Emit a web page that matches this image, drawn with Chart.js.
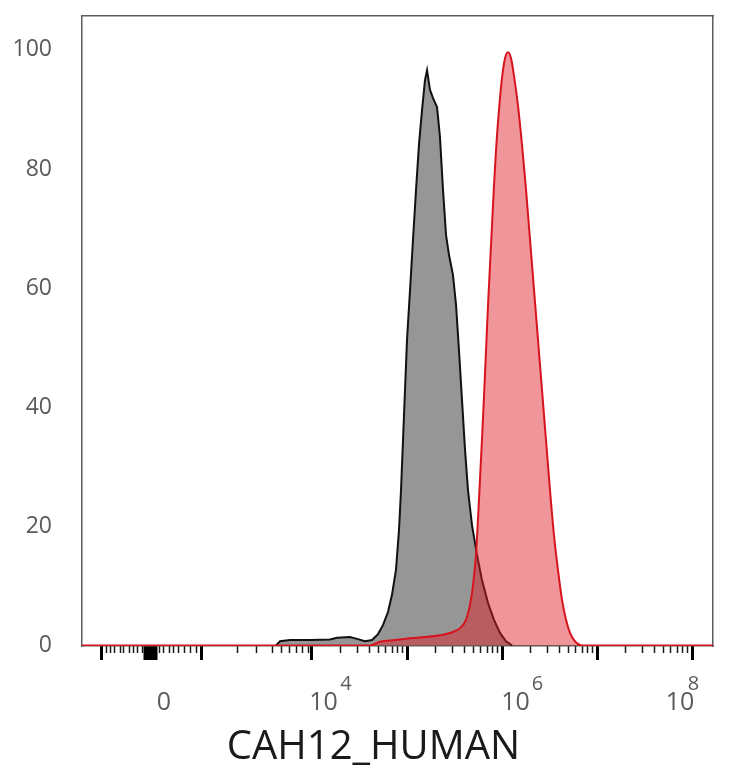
<!DOCTYPE html>
<html>
<head>
<meta charset="utf-8">
<title>CAH12_HUMAN</title>
<script src="https://cdn.jsdelivr.net/npm/chart.js@4.4.1/dist/chart.umd.min.js"></script>
<style>
  html, body { margin: 0; padding: 0; background: #fff; }
  #wrap { width: 734px; height: 768px; }
</style>
</head>
<body>
<div id="wrap"><canvas id="histChart"></canvas></div>
<script>
// x values are positions on the biexponential axis, in decades (10^4 -> 4)
const blackX = [3.621, 3.663, 3.768, 3.979, 4.189, 4.263, 4.400, 4.474, 4.558, 4.632,
  4.695, 4.747, 4.800, 4.842, 4.884, 4.916, 4.937, 4.958, 4.979, 5.000,
  5.032, 5.063, 5.095, 5.126, 5.158, 5.189, 5.211, 5.242, 5.274, 5.316,
  5.347, 5.379, 5.411, 5.442, 5.484, 5.516, 5.547, 5.579, 5.611, 5.642,
  5.684, 5.737, 5.789, 5.853, 5.916, 5.979, 6.042, 6.105];
const blackY = [0, 0.7, 0.9, 0.9, 1.0, 1.3, 1.4, 1.1, 0.7, 0.9,
  1.9, 3.4, 5.6, 8.5, 12.7, 19.4, 26.1, 34.5, 42.9, 51.3,
  59.7, 68.1, 76.5, 84.1, 89.9, 94.9, 96.6, 93.3, 91.9, 90.4,
  85.4, 76.5, 68.9, 65.6, 62.2, 57.2, 49.6, 41.2, 32.8, 26.1,
  20.2, 15.2, 11.0, 7.1, 4.3, 2.1, 0.7, 0];

const redX = [1.579, 4.611, 4.716, 4.874, 5.032, 5.189, 5.347, 5.474, 5.558, 5.621,
  5.663, 5.695, 5.726, 5.747, 5.768, 5.789, 5.811, 5.832, 5.853, 5.874,
  5.895, 5.916, 5.937, 5.968, 6.000, 6.032, 6.063, 6.095, 6.126, 6.168,
  6.211, 6.253, 6.295, 6.337, 6.379, 6.421, 6.463, 6.505, 6.547, 6.589,
  6.632, 6.674, 6.716, 6.768, 6.842, 8.221];
const redY = [0, 0, 0.6, 0.9, 1.2, 1.4, 1.7, 2.2, 2.9, 4.3,
  6.8, 10.1, 15.2, 21.1, 27.8, 34.5, 42.0, 49.6, 57.2, 63.9,
  70.6, 77.3, 83.2, 89.9, 95.3, 98.6, 99.6, 98.6, 95.7, 90.7,
  84.0, 76.5, 68.1, 59.7, 51.3, 42.9, 34.5, 26.1, 18.5, 12.7,
  7.6, 4.3, 2.1, 0.7, 0, 0];

// axis ranges
const xMin = 1.579;
const xMax = 8.221;
const yMin = -0.1;
const yMax = 105.7;
const yTicks = [0, 20, 40, 60, 80, 100];

// tick labels: base text and the raised exponent sit at their own spots
const xLabelPos = [2.442, 4.121, 6.142, 7.874];
const xLabels = ['0', '10', '10', '10'];
const supPos = [4.358, 6.374, 8.016];
const supLabels = ['4', '6', '8'];

// tick marks (-10^3, 0, 10^3, 10^4 ... 10^8)
const majorPos = [1.779, 2.305, 2.842, 4, 5, 6, 7, 8];
const zeroPos = 2.305;
const linearMinorPos = [1.832, 1.884, 1.926, 1.979, 2.021, 2.074, 2.116, 2.158, 2.211,
  2.400, 2.442, 2.495, 2.547, 2.600, 2.663, 2.726, 2.789];
const lowLogMinorPos = [3.211, 3.421, 3.579, 3.684, 3.758, 3.842, 3.905, 3.958];
const logDecades = [4, 5, 6, 7];

// minor ticks 2..9 inside each full decade
let minorPos = linearMinorPos.concat(lowLogMinorPos);
for (let i = 0; i < logDecades.length; i++) {
  for (let k = 2; k <= 9; k++) {
    minorPos.push(logDecades[i] + Math.log10(k));
  }
}

function toPoints(xs, ys) {
  return xs.map((x, i) => ({ x: x, y: ys[i] }));
}

function setTicks(positions) {
  return function (scale) {
    scale.ticks = positions.map(v => ({ value: v }));
  };
}

const boxColor = '#5c5c5c';
const labelColor = '#5a5a5a';
const clear = 'rgba(0, 0, 0, 0)';

Chart.defaults.font.family = "'Open Sans', sans-serif";

const ctx = document.getElementById('histChart').getContext('2d');
new Chart(ctx, {
  type: 'line',
  data: {
    datasets: [
      {
        label: 'stained',
        data: toPoints(redX, redY),
        borderColor: '#d7141e',
        backgroundColor: 'rgba(224, 30, 38, 0.47)',
        borderWidth: 2,
        fill: 'origin',
        pointRadius: 0,
        cubicInterpolationMode: 'monotone',
        order: 0,
      },
      {
        label: 'control',
        data: toPoints(blackX, blackY),
        borderColor: '#111111',
        backgroundColor: 'rgba(110, 110, 110, 0.72)',
        borderWidth: 2,
        fill: 'origin',
        pointRadius: 0,
        tension: 0,
        order: 1,
      },
    ],
  },
  options: {
    responsive: true,
    maintainAspectRatio: false,
    animation: false,
    layout: { padding: { left: 13, right: 0, top: 0, bottom: 0 } },
    plugins: {
      legend: { display: false },
      tooltip: { enabled: false },
      title: {
        display: true,
        position: 'bottom',
        text: 'CAH12_HUMAN',
        color: '#1a1a1a',
        font: { size: 40, weight: 'normal', lineHeight: 1.0 },
        padding: { top: 8, bottom: 0 },
      },
    },
    scales: {
      x: {
        type: 'linear',
        position: 'bottom',
        min: xMin,
        max: xMax,
        afterBuildTicks: setTicks(xLabelPos),
        afterFit: (scale) => { scale.height = 74; },
        // invisible tick marks keep the labels away from the axis
        grid: { drawOnChartArea: false, drawTicks: true, tickLength: 42, tickColor: clear },
        border: { display: true, color: boxColor, width: 1.5 },
        ticks: {
          autoSkip: false,
          maxRotation: 0,
          padding: 0,
          color: labelColor,
          font: { size: 25 },
          callback: (v, i) => xLabels[i],
        },
      },
      xSup: {
        axis: 'x',
        type: 'linear',
        position: { y: yMin },
        min: xMin,
        max: xMax,
        afterBuildTicks: setTicks(supPos),
        grid: { drawOnChartArea: false, drawTicks: true, tickLength: 26, tickColor: clear },
        border: { display: false },
        ticks: {
          autoSkip: false,
          maxRotation: 0,
          padding: 0,
          color: labelColor,
          font: { size: 20 },
          callback: (v, i) => supLabels[i],
        },
      },
      xMajor: {
        axis: 'x',
        type: 'linear',
        position: { y: yMin },
        min: xMin,
        max: xMax,
        afterBuildTicks: setTicks(majorPos),
        grid: {
          drawOnChartArea: false,
          tickLength: 14,
          tickColor: '#000',
          tickWidth: (c) => (c.tick && c.tick.value === zeroPos ? 14 : 3),
        },
        border: { display: false },
        ticks: { display: false },
      },
      xMinor: {
        axis: 'x',
        type: 'linear',
        position: { y: yMin },
        min: xMin,
        max: xMax,
        afterBuildTicks: setTicks(minorPos),
        grid: {
          drawOnChartArea: false,
          tickLength: 7,
          tickColor: '#1a1a1a',
          tickWidth: 1.5,
        },
        border: { display: false },
        ticks: { display: false },
      },
      xTop: {
        axis: 'x',
        type: 'linear',
        position: 'top',
        min: xMin,
        max: xMax,
        afterFit: (scale) => { scale.height = 16; },
        grid: { drawOnChartArea: false, drawTicks: false },
        border: { display: true, color: boxColor, width: 1.5 },
        ticks: { display: false },
      },
      y: {
        type: 'linear',
        position: 'left',
        min: yMin,
        max: yMax,
        afterBuildTicks: setTicks(yTicks),
        afterFit: (scale) => { scale.width = 69; },
        grid: { drawOnChartArea: false, drawTicks: true, tickLength: 30, tickColor: clear },
        border: { display: true, color: boxColor, width: 1.5 },
        ticks: {
          padding: 0,
          color: labelColor,
          font: { size: 23 },
        },
      },
      yRight: {
        axis: 'y',
        type: 'linear',
        position: 'right',
        min: yMin,
        max: yMax,
        afterFit: (scale) => { scale.width = 21; },
        grid: { drawOnChartArea: false, drawTicks: false },
        border: { display: true, color: boxColor, width: 1.5 },
        ticks: { display: false },
      },
    },
  },
});
</script>
</body>
</html>
